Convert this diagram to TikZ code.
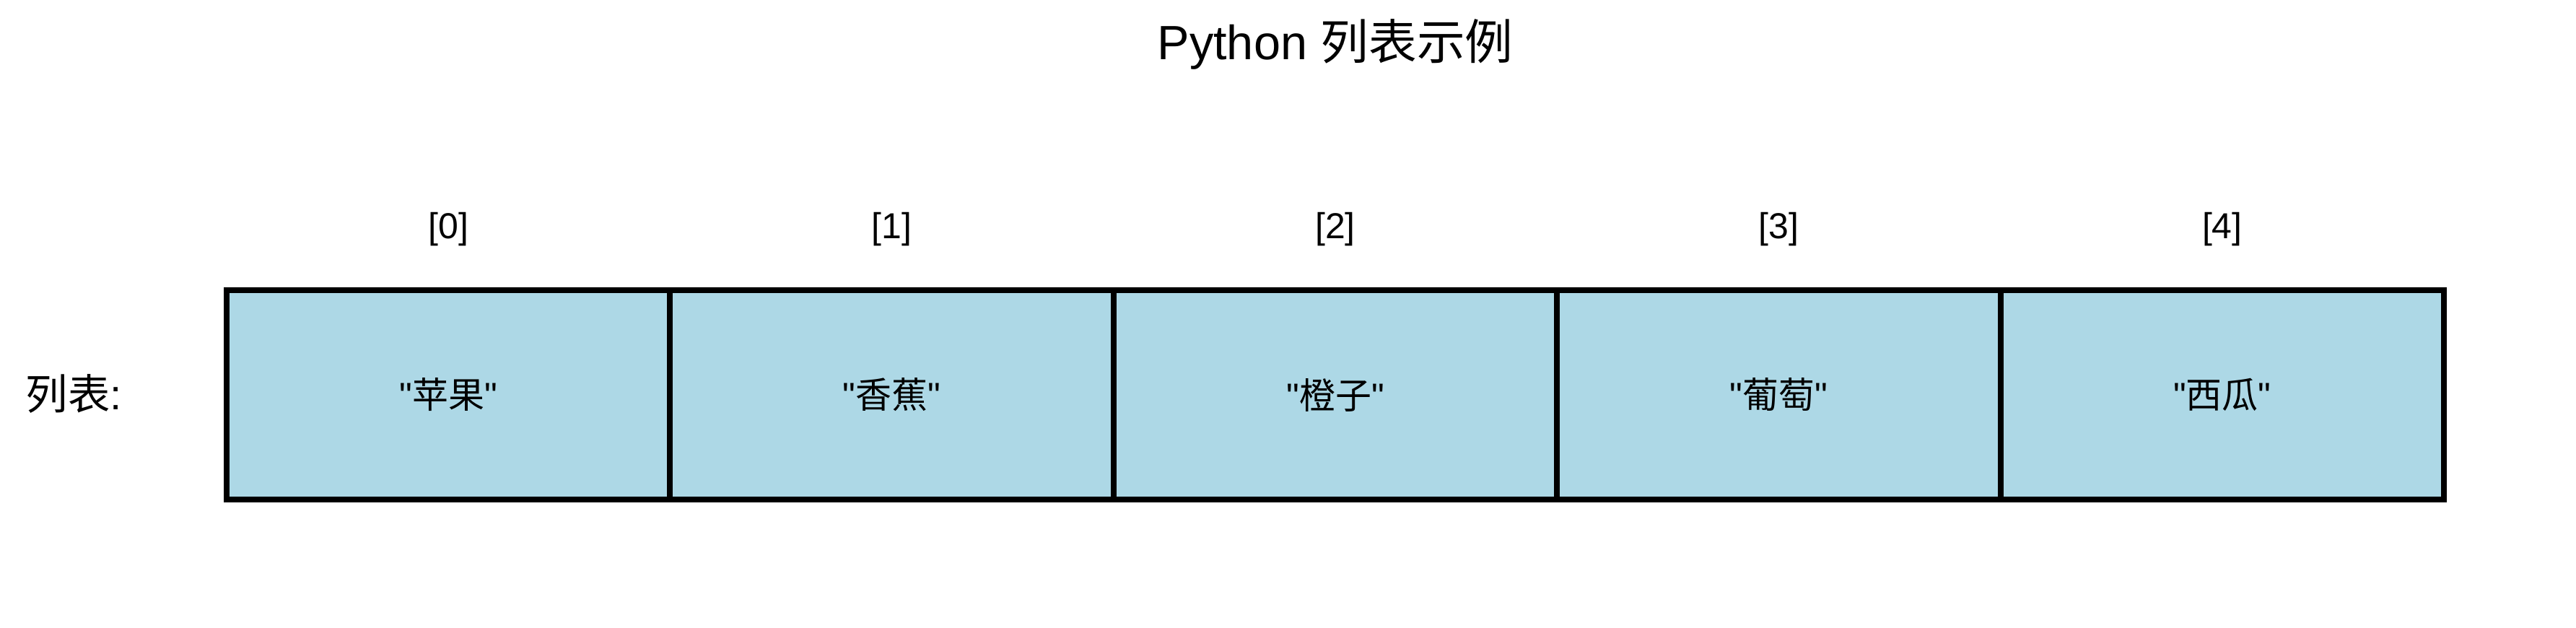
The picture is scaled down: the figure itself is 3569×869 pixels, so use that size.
\documentclass[tikz,border=0pt]{standalone}
\usepackage{fontspec}
\setmainfont{Liberation Sans}
\newfontfamily\latn{Liberation Sans}
\newfontfamily\cjk{Noto Sans CJK SC}
\definecolor{cellblue}{RGB}{173,216,230}
\begin{document}
\begin{tikzpicture}[x=0.24pt,y=-0.24pt,
  cellbox/.style={draw=black,fill=cellblue,line width=1.92pt,minimum width=147.46pt,minimum height=69.6pt,inner sep=0pt,anchor=center,font=\latn\fontsize{12}{14}\selectfont},
  idxlabel/.style={anchor=base,inner sep=0pt,font=\latn\fontsize{12}{14}\selectfont},
  titlelabel/.style={anchor=base,inner sep=0pt,font=\latn\fontsize{16}{19}\selectfont},
  sidelabel/.style={anchor=west,inner sep=0pt,font=\latn\fontsize{14}{17}\selectfont}]
\useasboundingbox (0,0) rectangle (3569,869);
\node[titlelabel] (title) at (1850,82) {Python {\cjk 列表示例}};
\node[sidelabel] (side) at (35,545) {{\cjk 列表}:};
\foreach \i/\t in {0/苹果,1/香蕉,2/橙子,3/葡萄,4/西瓜}{
  \node[cellbox] (c\i) at ({314+614.4*(\i+0.5)},547) {"{\cjk \t}"};
  \node[idxlabel] (i\i) at ({314+614.4*(\i+0.5)},330) {[\i]};
}
\end{tikzpicture}
\end{document}
